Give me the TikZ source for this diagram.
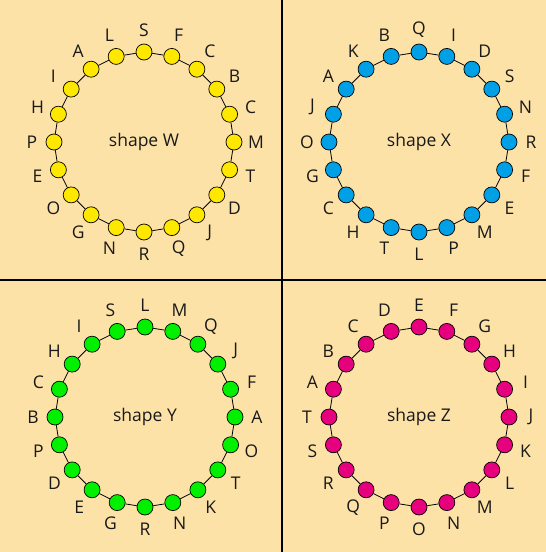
\documentclass[tikz,border=0pt]{standalone}
\usepackage{fontspec}
\setmainfont{Open Sans}
\definecolor{bgc}{RGB}{253,226,168}
\definecolor{cw}{RGB}{255,232,0}
\definecolor{cx}{RGB}{0,160,230}
\definecolor{cy}{RGB}{0,240,0}
\definecolor{cz}{RGB}{230,0,126}
\tikzset{
  dot/.style={circle,draw=black,line width=0.7pt,minimum size=16pt,inner sep=0pt},
  lbl/.style={inner sep=0pt,font=\fontsize{17.5}{20}\selectfont,text=black!90},
  edge/.style={draw=black,line width=0.8pt},
  divider/.style={draw=black,line width=1.2pt}
}
\newcommand\drawring[5]{%
  \foreach \lab [count=\i from 0] in {#5} {
    \pgfmathsetmacro\ang{90-18*\i}
    \node[dot,fill=#4] (#1\i) at ({#2+90*cos(\ang)},{#3-90*sin(\ang)}) {};
    \node[lbl] (#1l\i) at ({#2+112*cos(\ang)},{#3-112*sin(\ang)}) {\lab};
  }
  \foreach \i in {0,...,19} {
    \pgfmathtruncatemacro\j{mod(\i+1,20)}
    \draw[edge] (#1\i) -- (#1\j);
  }
  \node[lbl] (#1c) at (#2,#3) {shape #1};
}
\begin{document}
\begin{tikzpicture}[x=1pt,y=-1pt]
\fill[bgc] (0,0) rectangle (546,552);
\useasboundingbox (0,0) rectangle (546,552);
\coordinate (vt) at (282,0);
\coordinate (vb) at (282,552);
\coordinate (hl) at (0,280);
\coordinate (hr) at (546,280);
\draw[divider] (vt) -- (vb);
\draw[divider] (hl) -- (hr);
\drawring{W}{144}{142}{cw}{S,F,C,B,C,M,T,D,J,Q,R,N,G,O,E,P,H,I,A,L}
\drawring{X}{419}{142}{cx}{Q,I,D,S,N,R,F,E,M,P,L,T,H,C,G,O,J,A,K,B}
\drawring{Y}{145}{417}{cy}{L,M,Q,J,F,A,O,T,K,N,R,G,E,D,P,B,C,H,I,S}
\drawring{Z}{419}{417}{cz}{E,F,G,H,I,J,K,L,M,N,O,P,Q,R,S,T,A,B,C,D}
\end{tikzpicture}
\end{document}
